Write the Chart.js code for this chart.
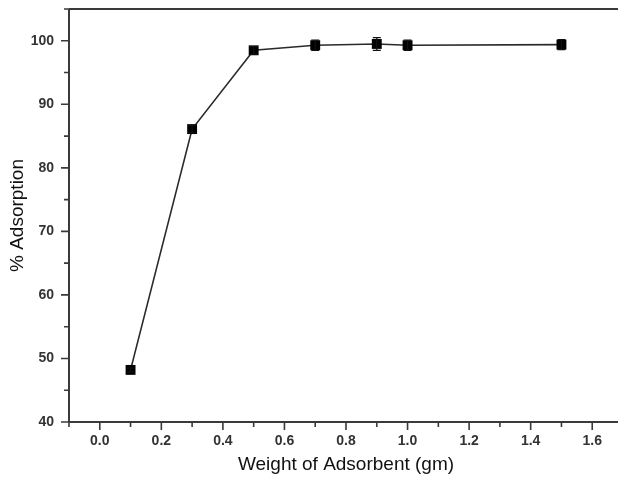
<!DOCTYPE html>
<html>
<head>
<meta charset="utf-8">
<script src="https://cdn.jsdelivr.net/npm/chart.js@4"></script>
<style>
  html, body { margin: 0; padding: 0; background: #fff; overflow: hidden; }
  #wrap { width: 630px; height: 480px; }
</style>
</head>
<body>
<div id="wrap"><canvas id="adsChart" width="630" height="480"></canvas></div>
<script>
// data
const weights = [0.1, 0.3, 0.5, 0.7, 0.9, 1.0, 1.5];
const adsorption = [48.2, 86.1, 98.5, 99.3, 99.5, 99.3, 99.4];
const errors = [0.3, 0.6, 0.6, 0.8, 1.0, 0.8, 0.8];
const xLabels = ['0.0', '0.2', '0.4', '0.6', '0.8', '1.0', '1.2', '1.4', '1.6'];
const yLabels = ['40', '50', '60', '70', '80', '90', '100'];

const axisColor = '#3a3a3a';
const tickFont = { family: 'Liberation Sans, Arial, sans-serif', size: 14, weight: 'bold' };
const titleFont = { family: 'Liberation Sans, Arial, sans-serif', size: 19 };

// ticks, frame and error bars drawn on top of the library scales
const framePlugin = {
  id: 'frame',
  afterDatasetsDraw(chart) {
    const c = chart.ctx, a = chart.chartArea;
    const xs = chart.scales.x, ys = chart.scales.y;
    c.save();
    // error bars
    c.strokeStyle = '#111';
    c.lineWidth = 1.2;
    weights.forEach((w, i) => {
      const px = xs.getPixelForValue(w);
      const top = ys.getPixelForValue(adsorption[i] + errors[i]);
      const bot = ys.getPixelForValue(adsorption[i] - errors[i]);
      c.beginPath();
      c.moveTo(px, top); c.lineTo(px, bot);
      c.moveTo(px - 4, top); c.lineTo(px + 4, top);
      c.moveTo(px - 4, bot); c.lineTo(px + 4, bot);
      c.stroke();
    });
    // frame
    c.strokeStyle = axisColor;
    c.lineWidth = 2;
    c.beginPath();
    c.moveTo(a.left, a.top); c.lineTo(a.right, a.top);
    c.moveTo(a.left, a.top); c.lineTo(a.left, a.bottom);
    c.moveTo(a.left, a.bottom); c.lineTo(a.right, a.bottom);
    c.moveTo(a.right, a.top); c.lineTo(a.right, a.bottom);
    c.stroke();
    // ticks (outward)
    c.lineWidth = 1.6;
    c.beginPath();
    xs.ticks.forEach(t => {
      const px = xs.getPixelForValue(t.value);
      const major = xLabels.includes(t.value.toFixed(1));
      c.moveTo(px, a.bottom); c.lineTo(px, a.bottom + (major ? 8 : 5));
    });
    ys.ticks.forEach(t => {
      const py = ys.getPixelForValue(t.value);
      const major = yLabels.includes(String(Math.round(t.value)));
      c.moveTo(a.left, py); c.lineTo(a.left - (major ? 8 : 5), py);
    });
    c.stroke();
    c.restore();
  }
};

new Chart(document.getElementById('adsChart'), {
  type: 'scatter',
  data: {
    datasets: [{
      data: weights.map((w, i) => ({ x: w, y: adsorption[i] })),
      showLine: true,
      borderColor: '#2a2a2a',
      borderWidth: 1.6,
      pointStyle: 'rect',
      pointRadius: 7,
      pointHoverRadius: 7,
      pointBackgroundColor: '#000',
      pointBorderWidth: 0
    }]
  },
  plugins: [framePlugin],
  options: {
    responsive: false,
    animation: false,
    layout: { padding: { top: 9, right: 7, left: 0, bottom: 0 } },
    plugins: { legend: { display: false }, tooltip: { enabled: false } },
    scales: {
      x: {
        type: 'linear',
        min: -0.1,
        max: 1.7,
        afterFit: s => { s.height = 58; },
        border: { display: false },
        grid: { display: true, drawOnChartArea: false, drawTicks: true, tickLength: 8, tickColor: 'rgba(0,0,0,0)' },
        ticks: {
          stepSize: 0.1,
          autoSkip: false,
          maxRotation: 0,
          padding: 3,
          color: '#333',
          font: tickFont,
          callback: v => xLabels.includes(v.toFixed(1)) ? v.toFixed(1) : ''
        },
        title: { display: true, text: 'Weight of Adsorbent (gm)', color: '#111', font: titleFont, padding: { top: 0 } }
      },
      y: {
        min: 40,
        max: 105,
        afterFit: s => { s.width = 69; s.paddingTop = 0; },
        border: { display: false },
        grid: { display: true, drawOnChartArea: false, drawTicks: true, tickLength: 8, tickColor: 'rgba(0,0,0,0)' },
        ticks: {
          stepSize: 5,
          autoSkip: false,
          padding: 7,
          color: '#333',
          font: tickFont,
          callback: v => yLabels.includes(String(v)) ? String(v) : ''
        },
        title: { display: true, text: '% Adsorption', color: '#111', font: titleFont, padding: { top: 6, bottom: 0 } }
      }
    }
  }
});
</script>
</body>
</html>
